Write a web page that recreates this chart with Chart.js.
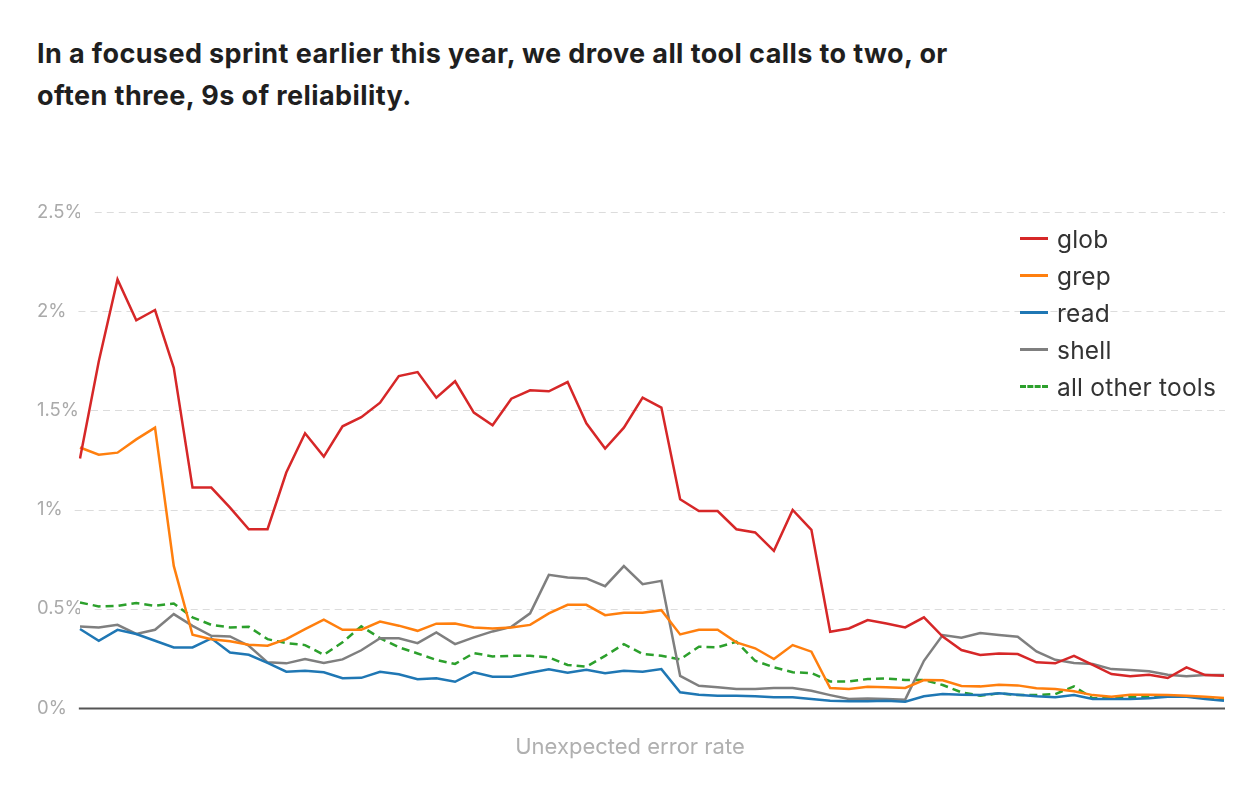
<!DOCTYPE html>
<html>
<head>
<meta charset="utf-8">
<script src="https://cdn.jsdelivr.net/npm/chart.js@4.4.1/dist/chart.umd.min.js"></script>
<style>
  html, body { margin: 0; padding: 0; background: #fff; }
  body { width: 1260px; height: 796px; position: relative; overflow: hidden; font-family: Inter, "Noto Sans", sans-serif; }
  h1 { position: absolute; left: 37px; top: 33px; margin: 0; font-size: 27px; line-height: 42px; font-weight: 700; color: #1f1f1f; letter-spacing: 0.4px; }
  #chart { position: absolute; left: 0; top: 0; }
  #legend { position: absolute; left: 1020px; top: 220px; }
  .item { display: flex; align-items: center; height: 37px; font-size: 24.5px; color: #333; letter-spacing: 0.2px; }
  .swatch { width: 28px; height: 0; border-top: 3px solid; margin-right: 9px; }
  #xlabel { position: absolute; left: 0; width: 1260px; top: 733px; text-align: center; font-size: 22px; color: #b0b0b0; }
</style>
</head>
<body>
<h1>In a focused sprint earlier this year, we drove all tool calls to two, or<br>often three, 9s of reliability.</h1>
<canvas id="chart" width="1260" height="796"></canvas>
<div id="legend"></div>
<div id="xlabel">Unexpected error rate</div>
<script>
// one category per sampled period (no labels shown on the axis)
const periods = Array.from({ length: 62 }, (_, i) => i + 1);
const yTicks = [0, 0.5, 1, 1.5, 2, 2.5];

// unexpected error rate, percent
const glob = [1.257, 1.747, 2.16, 1.954, 2.006, 1.715, 1.111, 1.111, 1.01, 0.901, 0.901, 1.187, 1.385, 1.267, 1.42, 1.466,
  1.539, 1.673, 1.693, 1.564, 1.647, 1.489, 1.425, 1.559, 1.601, 1.596, 1.643, 1.435, 1.308, 1.413, 1.564, 1.514,
  1.052, 0.993, 0.993, 0.901, 0.885, 0.792, 0.998, 0.898, 0.384, 0.401, 0.443, 0.426, 0.406, 0.457, 0.36, 0.292,
  0.267, 0.275, 0.272, 0.23, 0.225, 0.263, 0.217, 0.171, 0.16, 0.168, 0.151, 0.205, 0.166, 0.163];
const grep = [1.313, 1.277, 1.287, 1.354, 1.413, 0.716, 0.369, 0.347, 0.336, 0.319, 0.314, 0.347, 0.398, 0.445, 0.394, 0.395,
  0.436, 0.415, 0.389, 0.425, 0.426, 0.406, 0.401, 0.406, 0.419, 0.477, 0.52, 0.52, 0.468, 0.48, 0.48, 0.493,
  0.371, 0.394, 0.394, 0.331, 0.301, 0.247, 0.317, 0.284, 0.101, 0.096, 0.107, 0.104, 0.101, 0.141, 0.14, 0.111,
  0.109, 0.117, 0.114, 0.099, 0.096, 0.084, 0.065, 0.057, 0.067, 0.067, 0.065, 0.062, 0.057, 0.05];
const read = [0.398, 0.339, 0.394, 0.373, 0.339, 0.305, 0.305, 0.351, 0.28, 0.268, 0.227, 0.183, 0.188, 0.18, 0.15, 0.152,
  0.183, 0.17, 0.145, 0.15, 0.132, 0.18, 0.158, 0.158, 0.178, 0.195, 0.178, 0.193, 0.175, 0.188, 0.183, 0.196,
  0.079, 0.067, 0.062, 0.062, 0.059, 0.054, 0.054, 0.045, 0.037, 0.034, 0.034, 0.037, 0.032, 0.059, 0.07, 0.067,
  0.065, 0.074, 0.067, 0.059, 0.054, 0.065, 0.045, 0.045, 0.045, 0.049, 0.057, 0.057, 0.045, 0.037];
const shell = [0.411, 0.406, 0.419, 0.373, 0.394, 0.473, 0.414, 0.364, 0.361, 0.314, 0.23, 0.225, 0.247, 0.227, 0.245, 0.291,
  0.352, 0.351, 0.327, 0.381, 0.322, 0.356, 0.386, 0.409, 0.477, 0.671, 0.658, 0.653, 0.614, 0.715, 0.624, 0.641,
  0.162, 0.112, 0.104, 0.096, 0.096, 0.101, 0.101, 0.087, 0.065, 0.045, 0.048, 0.045, 0.042, 0.238, 0.368, 0.354,
  0.378, 0.368, 0.359, 0.285, 0.243, 0.227, 0.222, 0.196, 0.191, 0.185, 0.168, 0.16, 0.166, 0.166];
const otherTools = [0.532, 0.512, 0.515, 0.529, 0.515, 0.527, 0.457, 0.419, 0.406, 0.409, 0.347, 0.327, 0.317, 0.268, 0.331, 0.412,
  0.352, 0.306, 0.275, 0.242, 0.222, 0.277, 0.26, 0.263, 0.263, 0.255, 0.217, 0.208, 0.263, 0.322, 0.272, 0.263,
  0.245, 0.309, 0.306, 0.334, 0.238, 0.205, 0.18, 0.176, 0.134, 0.134, 0.146, 0.149, 0.141, 0.141, 0.116, 0.079,
  0.062, 0.074, 0.065, 0.065, 0.07, 0.109, 0.049, 0.049, 0.057, 0.057, 0.057, 0.059, 0.049, 0.045];

const series = [
  { label: 'glob', data: glob, color: '#d62728' },
  { label: 'grep', data: grep, color: '#ff7f0e' },
  { label: 'read', data: read, color: '#1f77b4' },
  { label: 'shell', data: shell, color: '#7f7f7f' },
  { label: 'all other tools', data: otherTools, color: '#2ca02c', dash: [8, 5] }
];

// dashed grid lines that start just after each tick label, solid dark baseline at 0
const gridLines = {
  id: 'gridLines',
  beforeDatasetsDraw(chart) {
    const { ctx, chartArea } = chart;
    const y = chart.scales.y;
    ctx.save();
    ctx.font = Chart.helpers.toFont(y.options.ticks.font).string;
    y.ticks.forEach((t, i) => {
      const py = Math.round(y.getPixelForTick(i));
      const start = y.left + ctx.measureText(t.label).width + 12;
      ctx.beginPath();
      if (t.value === 0) {
        ctx.setLineDash([]);
        ctx.strokeStyle = '#555';
        ctx.lineWidth = 2;
      } else {
        ctx.setLineDash([7, 5]);
        ctx.strokeStyle = '#dcdcdc';
        ctx.lineWidth = 1;
      }
      ctx.moveTo(start, py + 0.5);
      ctx.lineTo(chartArea.right + 1, py + 0.5);
      ctx.stroke();
    });
    ctx.restore();
  }
};

new Chart(document.getElementById('chart'), {
  type: 'line',
  data: {
    labels: periods,
    datasets: series.map(s => ({
      label: s.label,
      data: s.data,
      borderColor: s.color,
      backgroundColor: s.color,
      borderDash: s.dash || [],
      borderWidth: 2.5,
      pointRadius: 0,
      tension: 0,
      fill: false
    }))
  },
  options: {
    responsive: false,
    animation: false,
    layout: { padding: { left: 37, right: 36, top: 212, bottom: 0 } },
    plugins: { legend: { display: false }, tooltip: { enabled: false } },
    scales: {
      x: {
        grid: { display: false },
        border: { display: false },
        ticks: { display: false },
        afterFit: s => { s.height = 88; }
      },
      y: {
        min: 0,
        max: 2.5,
        grid: { display: false },
        border: { display: false },
        afterBuildTicks: s => { s.ticks = yTicks.map(v => ({ value: v })); },
        ticks: {
          crossAlign: 'far',
          padding: 0,
          color: '#aaa',
          font: { family: 'Inter', size: 18.5 },
          callback: v => v + '%'
        },
        afterFit: s => { s.width = 43; }
      }
    }
  },
  plugins: [gridLines]
});

// legend sits inside the plot, top right
const legend = document.getElementById('legend');
series.forEach(s => {
  const item = document.createElement('div');
  item.className = 'item';
  const sw = document.createElement('span');
  sw.className = 'swatch';
  sw.style.borderTopColor = s.color;
  if (s.dash) sw.style.borderTopStyle = 'dashed';
  item.appendChild(sw);
  item.appendChild(document.createTextNode(s.label));
  legend.appendChild(item);
});
</script>
</body>
</html>
